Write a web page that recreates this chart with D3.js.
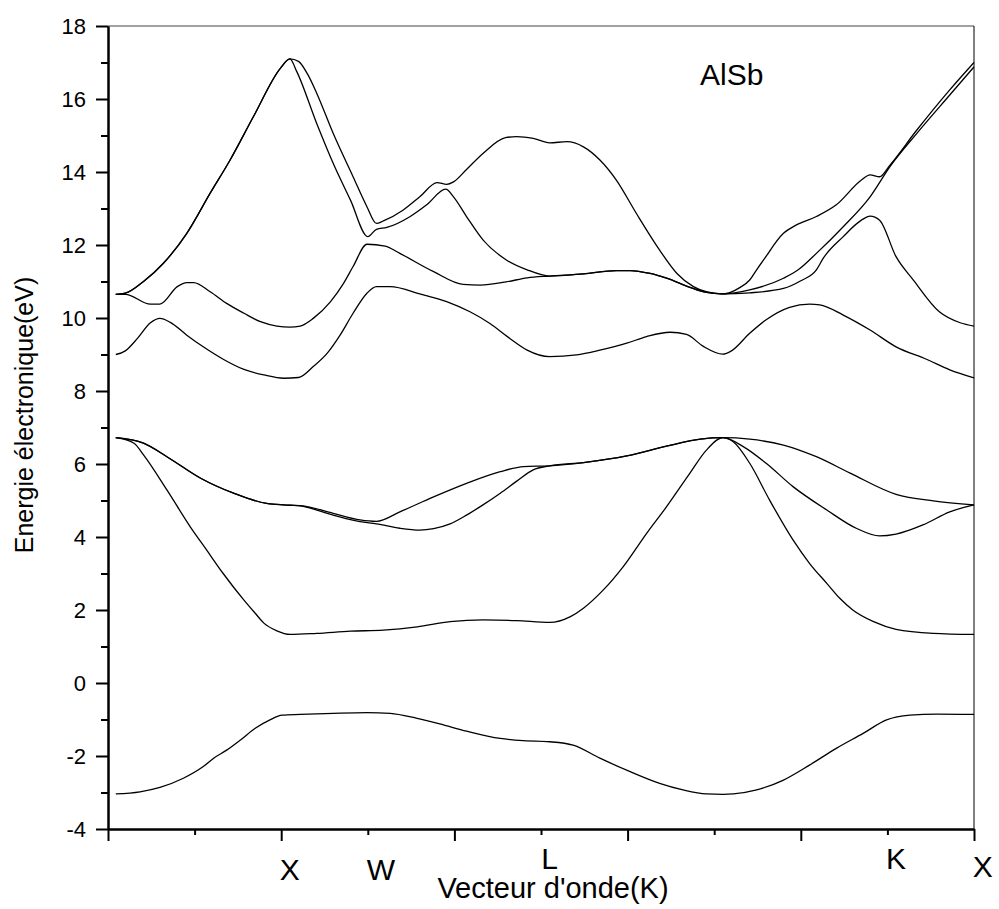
<!DOCTYPE html>
<html>
<head>
<meta charset="utf-8">
<script src="https://cdn.jsdelivr.net/npm/d3@7"></script>
<style>
  body { margin: 0; background: #fff; }
  text { font-family: "Liberation Sans", Arial, sans-serif; fill: #000; }
</style>
</head>
<body>
<script>
(function (d3) {
  "use strict";

  /***** Données *****/
  // Points de symétrie (position k, étiquette)
  var symLabels = ["X", "W", "L", "K", "X"];
  var symK = [2.1, 3.15, 5.1, 9.1, 10.1];
  var yMajorTicks = [-4, -2, 0, 2, 4, 6, 8, 10, 12, 14, 16, 18];
  var yMinorTicks = [-3, -1, 1, 3, 5, 7, 9, 11, 13, 15, 17];
  var xMajorTicks = [0, 2, 4, 6, 8, 10];
  var xMinorTicks = [1, 3, 5, 7, 9];

  // Bandes d'énergie [k, E(eV)]
  var band1 = [[0.09,-3.04],[0.37,-2.98],[0.6,-2.86],[0.87,-2.61],[1.1,-2.29],[1.22,-2.06],[1.37,-1.84],[1.53,-1.56],
    [1.7,-1.24],[1.87,-1.01],[2.01,-0.88],[2.22,-0.86],[2.6,-0.83],[2.99,-0.81],[3.26,-0.83],[3.57,-0.97],[3.83,-1.12],
    [4.14,-1.32],[4.53,-1.52],[4.8,-1.58],[5.1,-1.61],[5.37,-1.7],[5.68,-2.06],[6.03,-2.43],[6.37,-2.75],[6.64,-2.93],
    [6.91,-3.04],[7.1,-3.05],[7.22,-3.04],[7.49,-2.93],[7.8,-2.66],[8.1,-2.25],[8.41,-1.79],[8.72,-1.38],[8.99,-1.01],
    [9.26,-0.88],[9.57,-0.85],[10,-0.86]];
  var band2 = [[0.09,6.72],[0.3,6.57],[0.41,6.25],[0.68,5.29],[0.95,4.28],[1.14,3.64],[1.33,3.0],[1.57,2.27],[1.7,1.91],
    [1.8,1.64],[1.95,1.43],[2.1,1.33],[2.41,1.36],[2.8,1.42],[3.18,1.45],[3.57,1.54],[3.95,1.68],[4.33,1.73],[4.72,1.71],
    [5.1,1.66],[5.34,1.82],[5.49,2.05],[5.72,2.55],[5.95,3.19],[6.22,4.1],[6.45,4.83],[6.72,5.75],[6.91,6.38],[7.1,6.72],
    [7.22,6.61],[7.41,6.02],[7.64,5.01],[7.91,3.92],[8.1,3.28],[8.3,2.73],[8.45,2.32],[8.6,2.0],[8.84,1.68],[9.1,1.47],
    [9.53,1.36],[10,1.33]];
  var band3 = [[0.09,6.72],[0.41,6.57],[0.68,6.2],[1.07,5.61],[1.45,5.2],[1.83,4.92],[2.1,4.87],[2.22,4.85],[2.6,4.6],
    [2.91,4.42],[3.1,4.36],[3.37,4.24],[3.6,4.19],[3.76,4.23],[3.95,4.36],[4.14,4.6],[4.33,4.88],[4.53,5.2],[4.72,5.53],
    [4.91,5.84],[5.1,5.95],[5.49,6.04],[5.99,6.22],[6.45,6.49],[6.84,6.68],[7.1,6.72],[7.34,6.47],[7.6,6.02],[7.91,5.38],
    [8.3,4.74],[8.64,4.24],[8.91,4.03],[9.1,4.08],[9.41,4.33],[9.72,4.69],[10,4.88]];
  var band4 = [[0.09,6.72],[0.41,6.57],[0.68,6.2],[1.07,5.61],[1.45,5.2],[1.83,4.92],[2.1,4.87],[2.22,4.86],[2.6,4.65],
    [2.91,4.47],[3.1,4.43],[3.37,4.69],[3.76,5.1],[4.14,5.47],[4.53,5.79],[4.8,5.93],[5.1,5.95],[5.49,6.04],[5.99,6.22],
    [6.45,6.49],[6.84,6.68],[7.1,6.72],[7.41,6.68],[7.8,6.52],[8.18,6.2],[8.57,5.75],[9.1,5.17],[9.53,4.99],[10,4.88]];
  var band5 = [[0.09,9.0],[0.2,9.1],[0.34,9.44],[0.49,9.87],[0.6,9.99],[0.72,9.88],[0.91,9.53],[1.1,9.21],[1.33,8.87],
    [1.57,8.59],[1.8,8.44],[2.03,8.35],[2.2,8.37],[2.37,8.67],[2.53,9.03],[2.68,9.53],[2.83,10.13],[2.99,10.68],[3.1,10.86],
    [3.26,10.86],[3.6,10.66],[3.91,10.45],[4.18,10.17],[4.41,9.85],[4.64,9.44],[4.84,9.12],[5.1,8.94],[5.41,8.99],
    [5.68,9.12],[5.99,9.31],[6.22,9.49],[6.49,9.61],[6.68,9.55],[6.87,9.23],[7.1,9.01],[7.2,9.1],[7.41,9.58],[7.6,9.95],
    [7.87,10.29],[8.1,10.38],[8.22,10.36],[8.49,10.08],[8.8,9.67],[9.1,9.21],[9.45,8.87],[9.72,8.58],[10,8.36]];
  var band6 = [[0.09,10.65],[0.2,10.65],[0.49,10.38],[0.6,10.38],[0.8,10.86],[0.91,10.97],[0.99,10.97],[1.18,10.72],
    [1.37,10.4],[1.57,10.13],[1.76,9.9],[1.95,9.78],[2.1,9.75],[2.22,9.78],[2.37,9.99],[2.57,10.45],[2.72,10.95],
    [2.83,11.41],[2.99,12.02],[3.2,11.97],[3.37,11.77],[3.76,11.27],[4.1,10.92],[4.3,10.9],[4.6,10.99],[4.84,11.1],
    [5.1,11.15],[5.49,11.21],[5.87,11.3],[6.03,11.3],[6.26,11.22],[6.45,11.09],[6.72,10.84],[6.91,10.7],[7.1,10.66],
    [7.41,10.69],[7.8,10.81],[8.0,11.02],[8.18,11.32],[8.26,11.64],[8.49,12.23],[8.7,12.68],[8.8,12.79],[8.91,12.68],
    [9.1,11.68],[9.3,11.04],[9.6,10.17],[9.84,9.87],[10,9.78]];
  var band7 = [[0.09,10.65],[0.2,10.68],[0.41,11.0],[0.64,11.5],[0.91,12.32],[1.18,13.42],[1.41,14.33],[1.68,15.52],
    [1.99,16.84],[2.1,17.1],[2.18,16.75],[2.41,15.33],[2.6,14.24],[2.8,13.23],[3.0,12.23],[3.1,12.43],[3.22,12.48],
    [3.49,12.78],[3.68,13.1],[3.9,13.53],[3.99,13.32],[4.14,12.78],[4.33,12.14],[4.6,11.59],[4.84,11.32],[5.1,11.15],
    [5.49,11.21],[5.87,11.3],[6.03,11.3],[6.26,11.22],[6.45,11.09],[6.72,10.84],[6.91,10.7],[7.1,10.66],[7.41,10.77],
    [7.8,11.09],[7.97,11.32],[8.18,11.77],[8.49,12.5],[8.8,13.32],[9.03,14.15],[9.34,15.06],[9.72,16.11],[10,16.88]];
  var band8 = [[0.09,10.65],[0.2,10.68],[0.41,11.0],[0.64,11.5],[0.91,12.32],[1.18,13.42],[1.41,14.33],[1.68,15.52],
    [1.99,16.84],[2.1,17.1],[2.2,17.03],[2.3,16.7],[2.41,16.16],[2.6,15.06],[2.83,13.87],[2.99,13.05],[3.1,12.59],
    [3.18,12.66],[3.41,12.96],[3.6,13.32],[3.8,13.71],[3.91,13.66],[3.99,13.73],[4.14,14.07],[4.33,14.51],[4.59,14.94],
    [4.72,14.97],[4.91,14.92],[5.1,14.8],[5.3,14.83],[5.49,14.69],[5.68,14.33],[5.87,13.78],[6.1,12.87],[6.37,11.86],
    [6.57,11.22],[6.76,10.86],[6.91,10.72],[7.1,10.66],[7.3,10.84],[7.41,11.04],[7.49,11.32],[7.57,11.59],[7.8,12.32],
    [7.95,12.55],[8.18,12.78],[8.41,13.1],[8.7,13.78],[8.8,13.92],[8.91,13.87],[9.03,14.19],[9.34,15.15],[9.72,16.25],
    [10,17.0]];
  var bands = [band1, band2, band3, band4, band5, band6, band7, band8];

  /***** Configuration *****/
  var margin = { top: 26, right: 25, bottom: 80, left: 108 };
  var width = 999 - margin.left - margin.right;   // 866
  var height = 909 - margin.top - margin.bottom;  // 803

  var xScale = d3.scaleLinear().domain([0, 10]).range([0, width]);
  var yScale = d3.scaleLinear().domain([-4, 18]).range([height, 0]);

  var svg = d3.select("body").append("svg")
      .attr("width", 999)
      .attr("height", 909);

  var g = svg.append("g")
      .attr("transform", "translate(" + margin.left + "," + margin.top + ")");

  /***** Cadre *****/
  g.append("line").attr("x1", 0).attr("x2", width).attr("y1", 0).attr("y2", 0)
      .attr("stroke", "#444").attr("stroke-width", 1);
  g.append("line").attr("x1", width).attr("x2", width).attr("y1", 0).attr("y2", height)
      .attr("stroke", "#000").attr("stroke-width", 1);

  /***** Courbes *****/
  var line = d3.line()
      .x(function (d) { return xScale(d[0]); })
      .y(function (d) { return yScale(d[1]); })
      .curve(d3.curveMonotoneX);

  g.selectAll(".band").data(bands).enter().append("path")
      .attr("class", "band")
      .attr("d", line)
      .attr("fill", "none")
      .attr("stroke", "#000")
      .attr("stroke-width", 1.3);

  /***** Axes *****/
  // trait d'union simple comme dans l'original, pas le signe moins unicode
  var yAxis = d3.axisLeft(yScale).tickValues(yMajorTicks).tickSize(12).tickSizeOuter(0).tickPadding(10)
      .tickFormat(function (d) { return String(d); });
  var yMinor = d3.axisLeft(yScale).tickValues(yMinorTicks).tickSize(7).tickSizeOuter(0).tickFormat("");
  var xAxis = d3.axisBottom(xScale).tickValues(xMajorTicks).tickSize(12).tickSizeOuter(0).tickFormat("");
  var xMinor = d3.axisBottom(xScale).tickValues(xMinorTicks).tickSize(6).tickSizeOuter(0).tickFormat("");

  function styleAxis(sel) {
    sel.selectAll("path, line").attr("stroke", "#000").attr("stroke-width", 2);
    sel.selectAll("text").style("font-size", "22px").attr("fill", "#000");
  }

  g.append("g").call(yMinor).call(styleAxis);
  g.append("g").call(yAxis).call(styleAxis);
  g.append("g").attr("transform", "translate(0," + height + ")").call(xMinor).call(styleAxis);
  g.append("g").attr("transform", "translate(0," + height + ")").call(xAxis).call(styleAxis);

  /***** Étiquettes des points de symétrie *****/
  var labelShift = [11, 11, 0, 0, 8];
  g.selectAll(".sym").data(symLabels).enter().append("text")
      .attr("class", "sym")
      .attr("x", function (d, i) { return xScale(symK[i]); })
      .attr("y", function (d, i) { return height + 40 + labelShift[i]; })
      .attr("text-anchor", "middle")
      .style("font-size", "30px")
      .text(function (d) { return d; });

  /***** Titres *****/
  svg.append("text")
      .attr("x", 553).attr("y", 898)
      .attr("text-anchor", "middle")
      .style("font-size", "29px")
      .text("Vecteur d'onde(K)");

  svg.append("text")
      .attr("transform", "translate(33,415) rotate(-90)")
      .attr("text-anchor", "middle")
      .style("font-size", "25px")
      .text("Energie électronique(eV)");

  svg.append("text")
      .attr("x", 700).attr("y", 85)
      .style("font-size", "30px")
      .text("AlSb");

})(d3);
</script>
</body>
</html>
